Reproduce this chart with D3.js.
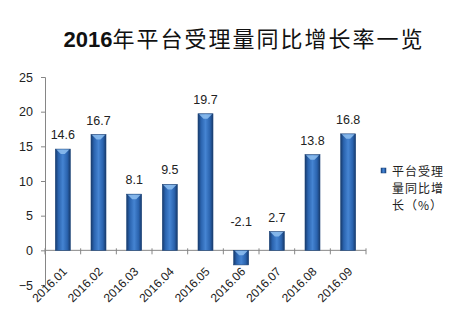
<!DOCTYPE html>
<html>
<head>
<meta charset="utf-8">
<script src="https://cdn.jsdelivr.net/npm/d3@7/dist/d3.min.js"></script>
<style>
  body { margin: 0; background: #fff; }
  svg { display: block; font-family: "Liberation Sans", "Noto Sans CJK SC", sans-serif; }
</style>
</head>
<body>
<div id="chart"></div>
<script>
var months = ["2016.01","2016.02","2016.03","2016.04","2016.05","2016.06","2016.07","2016.08","2016.09"]
var growth = [14.6, 16.7, 8.1, 9.5, 19.7, -2.1, 2.7, 13.8, 16.8]
var yTicks = [-5, 0, 5, 10, 15, 20, 25]
var legendLines = ["平台受理", "量同比增", "长（%）"]

var width = 464, height = 318
var plotLeft = 45, plotRight = 366, plotTop = 77, plotBottom = 285

var svg = d3.select("#chart").append("svg")
  .attr("width", width)
  .attr("height", height)

var defs = svg.append("defs")
var grad = defs.append("linearGradient").attr("id", "barGrad")
  .attr("x1", "0%").attr("x2", "100%").attr("y1", "0%").attr("y2", "0%")
grad.append("stop").attr("offset", "0%").attr("stop-color", "#173a6c")
grad.append("stop").attr("offset", "20%").attr("stop-color", "#2a63ae")
grad.append("stop").attr("offset", "50%").attr("stop-color", "#4584d2")
grad.append("stop").attr("offset", "80%").attr("stop-color", "#2a63ae")
grad.append("stop").attr("offset", "100%").attr("stop-color", "#173a6c")

var x = d3.scaleBand().domain(months).range([plotLeft, plotRight]).paddingInner(0.58).paddingOuter(0.29)
var y = d3.scaleLinear().domain([-5, 25]).range([plotBottom, plotTop])

// title
var title = svg.append("text")
  .attr("x", 244).attr("y", 47)
  .attr("text-anchor", "middle")
  .style("font-size", "22px")
  .attr("fill", "#111")
title.append("tspan").text("2016").style("font-weight", "bold").style("font-family", "Liberation Sans")
title.append("tspan").text("年平台受理量同比增长率一览")
  .style("font-family", "Noto Sans CJK SC").style("font-weight", "400").style("letter-spacing", "2px")

// y axis
var yAxis = svg.append("g")
  .attr("transform", "translate(" + plotLeft + ",0)")
  .call(d3.axisLeft(y).tickValues(yTicks).tickSize(4).tickPadding(8))
yAxis.select(".domain").attr("stroke", "#868686")
yAxis.selectAll(".tick line").attr("stroke", "#868686")
yAxis.selectAll(".tick text").style("font-size", "12.5px").attr("fill", "#222")
  .style("font-family", "Liberation Sans")

// x axis at zero
var xLine = svg.append("g")
xLine.append("line")
  .attr("x1", plotLeft).attr("x2", plotRight)
  .attr("y1", y(0)).attr("y2", y(0))
  .attr("stroke", "#868686")
xLine.selectAll("line.tk")
  .data(d3.range(months.length + 1))
  .enter().append("line").attr("class", "tk")
  .attr("x1", function(i) { return plotLeft + i * (plotRight - plotLeft) / months.length })
  .attr("x2", function(i) { return plotLeft + i * (plotRight - plotLeft) / months.length })
  .attr("y1", y(0) - 2).attr("y2", y(0) + 4)
  .attr("stroke", "#868686")

// bars
svg.selectAll("rect.bar")
  .data(growth)
  .enter().append("rect").attr("class", "bar")
  .attr("x", function(d, i) { return x(months[i]) })
  .attr("width", x.bandwidth())
  .attr("y", function(d) { return y(Math.max(d, 0)) })
  .attr("height", function(d) { return Math.abs(y(d) - y(0)) })
  .attr("fill", "url(#barGrad)")
  .attr("stroke", "#1d4478").attr("stroke-width", 0.6)

// bar top highlight
svg.selectAll("path.cap")
  .data(growth)
  .enter().append("path").attr("class", "cap")
  .attr("d", function(d, i) {
    var x0 = x(months[i]), w = x.bandwidth(), yt = y(Math.max(d, 0))
    return "M" + (x0 + 1) + "," + (yt + 0.5) + "L" + (x0 + w - 1) + "," + (yt + 0.5) +
      "L" + (x0 + w / 2 + 2) + "," + (yt + 5) + "L" + (x0 + w / 2 - 2) + "," + (yt + 5) + "Z"
  })
  .attr("fill", "#8fc0f0").attr("opacity", 0.85)

// value labels
svg.selectAll("text.val")
  .data(growth)
  .enter().append("text").attr("class", "val")
  .attr("x", function(d, i) { return x(months[i]) + x.bandwidth() / 2 })
  .attr("y", function(d) { return y(Math.abs(d)) - 10 })
  .attr("text-anchor", "middle")
  .style("font-size", "12.5px")
  .attr("fill", "#222")
  .text(function(d) { return d.toFixed(1) })

// x labels
svg.selectAll("text.xl")
  .data(months)
  .enter().append("text").attr("class", "xl")
  .attr("transform", function(d) {
    return "translate(" + (x(d) + x.bandwidth() / 2 + 5) + "," + (y(0) + 22) + ") rotate(-45)"
  })
  .attr("text-anchor", "end")
  .style("font-size", "12px")
  .attr("fill", "#222")
  .text(function(d) { return d })

// legend
var lg = svg.append("g").attr("transform", "translate(381,168)")
lg.append("rect").attr("width", 5).attr("height", 5)
  .attr("fill", "url(#barGrad)").attr("stroke", "#1d4478").attr("stroke-width", 0.5)
lg.selectAll("text")
  .data(legendLines)
  .enter().append("text")
  .attr("x", 11)
  .attr("y", function(d, i) { return 8 + i * 17 })
  .style("font-size", "12px")
  .style("letter-spacing", "1px")
  .style("font-family", "Noto Sans CJK SC")
  .attr("fill", "#222")
  .text(function(d) { return d })
</script>
</body>
</html>
